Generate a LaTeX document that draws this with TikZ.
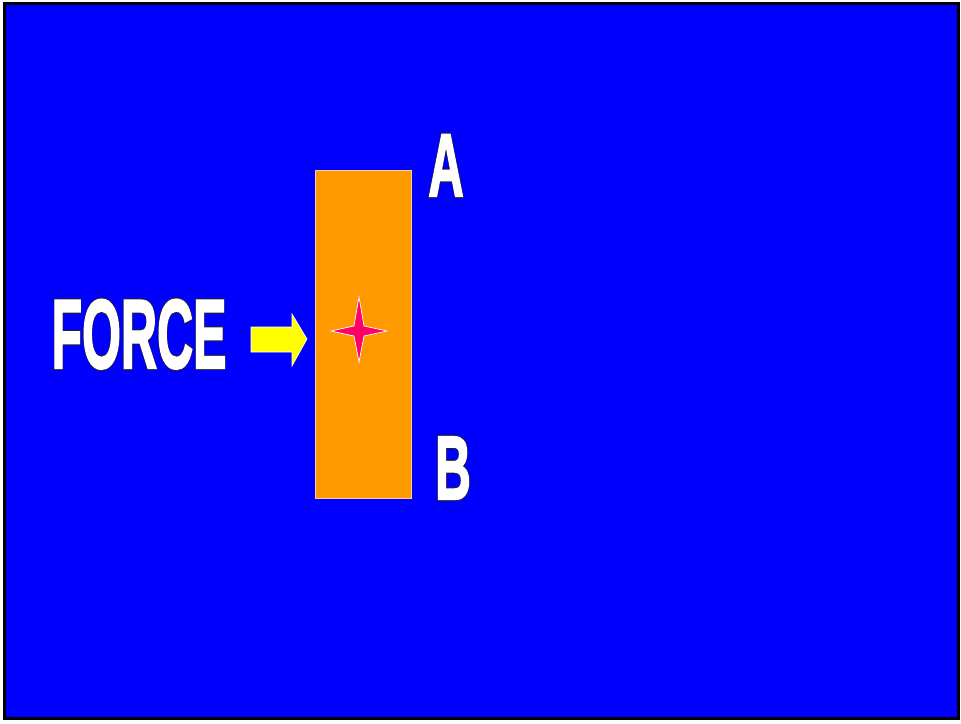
\documentclass[tikz,border=0pt]{standalone}
\usepackage{fontspec}
\setmainfont{Liberation Sans}
\definecolor{bgblue}{RGB}{0,0,255}
\definecolor{boxorange}{RGB}{255,153,0}
\definecolor{starpink}{RGB}{255,0,102}
\definecolor{arrowyellow}{RGB}{255,255,0}
\newcommand{\darkedge}[1]{\special{pdf:literal q 2 Tr 4.2 w 0.15 0.15 0.15 RG 0.15 0.15 0.15 rg}#1\special{pdf:literal Q}}
\newcommand{\whitebody}[1]{\special{pdf:literal q 2 Tr 2.2 w 1 1 1 RG}#1\special{pdf:literal Q}}
\newcommand{\bigletters}[5]{% name, position, xscale, size, text
  \node[bigtext, text=black!85, xscale=#3, font=\fontsize{#4}{#4}\selectfont\bfseries] at (#2) {\darkedge{#5}};
  \node[bigtext, xscale=#3, font=\fontsize{#4}{#4}\selectfont\bfseries] (#1) at (#2) {\whitebody{#5}};
}
\begin{document}
\begin{tikzpicture}[x=1pt,y=-1pt,
  bigtext/.style={text=white, inner sep=0pt, anchor=base},
  plate/.style={fill=boxorange, draw=orange!40!white, line width=0.8pt},
  arrowshape/.style={fill=arrowyellow, draw=white, line width=0.6pt},
  starshape/.style={fill=starpink, draw=white, line width=0.7pt}]
\useasboundingbox (0,0) rectangle (961,723);
\fill[white] (0,0) rectangle (961,723);
\draw[fill=bgblue, draw=black, line width=3pt] (4.5,3.5) rectangle (958.5,718.5);
% orange plate
\node[plate, minimum width=96pt, minimum height=328pt, inner sep=0pt, anchor=north west] (plate) at (315,170) {};
% star
\coordinate (c) at (359,331);
\draw[starshape] (359,297) -- (364,326) -- (387,331) -- (364,336) -- (359,362) -- (354,336) -- (331,331) -- (354,326) -- cycle;
% arrow
\coordinate (tip) at (307,339);
\draw[arrowshape] (251,327) -- (292,327) -- (292,314) -- (tip) -- (292,366) -- (292,352) -- (251,352) -- cycle;
% texts
\bigletters{force}{139,368}{0.51}{98}{FORCE}
\bigletters{alabel}{446,196}{0.55}{89}{A}
\bigletters{blabel}{453,499}{0.55}{90}{B}
\end{tikzpicture}
\end{document}
